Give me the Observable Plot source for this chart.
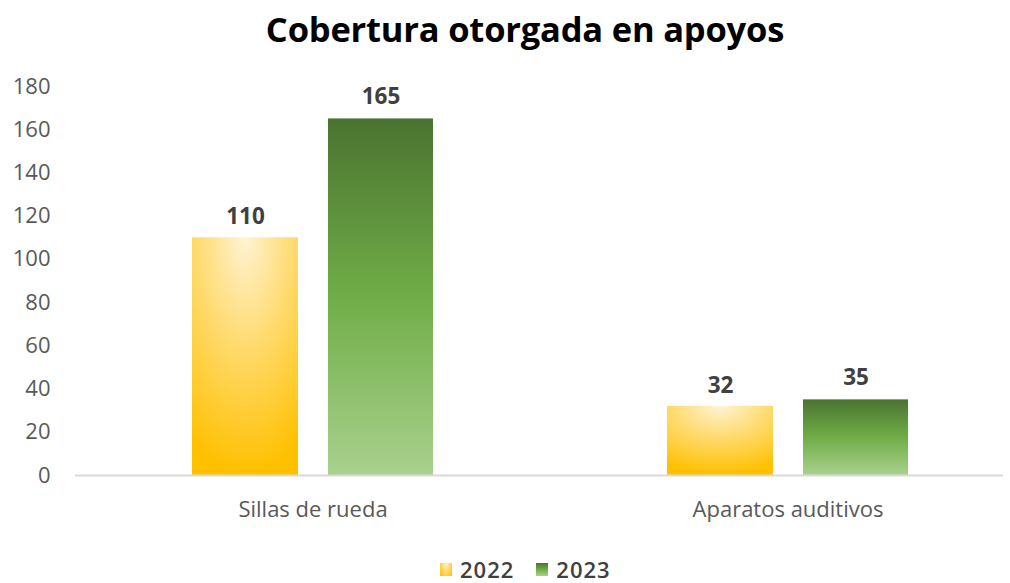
<!DOCTYPE html>
<html>
<head>
<meta charset="utf-8">
<script src="https://cdn.jsdelivr.net/npm/d3@7"></script>
<script src="https://cdn.jsdelivr.net/npm/@observablehq/plot@0.6"></script>
<style>
  html, body { margin: 0; padding: 0; background: #fff; width: 1010px; height: 583px; overflow: hidden; font-family: "Open Sans", sans-serif; }
  #wrap { position: relative; width: 1010px; height: 583px; }
  #title { position: absolute; top: 0; left: 0; width: 1050px; height: 60px; line-height: 58px; text-align: center; font-weight: 700; font-size: 34.5px; color: #000; letter-spacing: -0.2px; }
  #chart { position: absolute; top: 60px; left: 0; }
  #legend { position: absolute; top: 557px; left: 440px; height: 24px; display: flex; align-items: center; font-size: 22px; line-height: 24px; font-weight: 600; color: #404040; letter-spacing: 1px; }
  .item { display: flex; align-items: center; margin-right: 22px; }
  .sw { width: 12px; height: 13px; margin-right: 8px; }
</style>
</head>
<body>
<div id="wrap">
  <div id="title">Cobertura otorgada en apoyos</div>
  <div id="chart"></div>
  <div id="legend"></div>
</div>
<script>
const categories = ["Sillas de rueda", "Aparatos auditivos"];
const years = ["2022", "2023"];
const values2022 = [110, 32];
const values2023 = [165, 35];
const yTicks = [0, 20, 40, 60, 80, 100, 120, 140, 160, 180];

const rows2022 = categories.map((c, i) => ({category: c, year: years[0], value: values2022[i]}));
const rows2023 = categories.map((c, i) => ({category: c, year: years[1], value: values2023[i]}));

const svg = Plot.plot({
  width: 1010,
  height: 480,
  marginTop: 26,
  marginBottom: 65,
  marginLeft: 75,
  marginRight: 7,
  style: {fontFamily: "Open Sans, sans-serif", background: "transparent"},
  x: {domain: categories, range: [75, 1025], padding: 0, label: null, tickSize: 0, tickPadding: 26},
  y: {domain: [0, 180], ticks: yTicks, label: null, tickSize: 0, tickPadding: 25},
  marks: [
    Plot.barY(rows2022, {x: "category", y: "value", fill: "url(#g2022)", insetLeft: 117, insetRight: 252}),
    Plot.barY(rows2023, {x: "category", y: "value", fill: "url(#g2023)", insetLeft: 253, insetRight: 117}),
    Plot.ruleY([0], {stroke: "#d9d9d9", strokeWidth: 2}),
    Plot.text(rows2022, {x: "category", y: "value", text: d => String(d.value), dx: -67.5, dy: -21, fontSize: 22.5, fontWeight: 700, fill: "#404040"}),
    Plot.text(rows2023, {x: "category", y: "value", text: d => String(d.value), dx: 68, dy: -22, fontSize: 22.5, fontWeight: 700, fill: "#404040"}),
    Plot.axisY({ticks: yTicks, tickSize: 0, tickPadding: 25, fontSize: 22, fill: "#595959", label: null}),
    Plot.axisX({tickSize: 0, tickPadding: 26, fontSize: 22, fill: "#595959", label: null, style: {letterSpacing: "0.4px"}})
  ]
});

const defs = d3.select(svg).insert("defs", ":first-child");
const rg = defs.append("radialGradient").attr("id", "g2022").attr("cx", 0.5).attr("cy", 0).attr("r", 1).attr("fx", 0.5).attr("fy", 0);
rg.append("stop").attr("offset", 0).attr("stop-color", "#fff3d4");
rg.append("stop").attr("offset", 0.45).attr("stop-color", "#ffdb70");
rg.append("stop").attr("offset", 1).attr("stop-color", "#ffc000");
const lg = defs.append("linearGradient").attr("id", "g2023").attr("x1", 0).attr("y1", 0).attr("x2", 0).attr("y2", 1);
lg.append("stop").attr("offset", 0).attr("stop-color", "#4a7330");
lg.append("stop").attr("offset", 0.5).attr("stop-color", "#70ad47");
lg.append("stop").attr("offset", 1).attr("stop-color", "#a9d18e");

document.getElementById("chart").appendChild(svg);

const legendFills = ["radial-gradient(ellipse at 50% 0%, #fff3d4 0%, #ffdb70 45%, #ffc000 100%)", "linear-gradient(#4a7330, #70ad47, #a9d18e)"];
const legend = d3.select("#legend");
years.forEach((y, i) => {
  const it = legend.append("div").attr("class", "item");
  it.append("div").attr("class", "sw").style("background", legendFills[i]);
  it.append("span").text(y);
});
</script>
</body>
</html>
